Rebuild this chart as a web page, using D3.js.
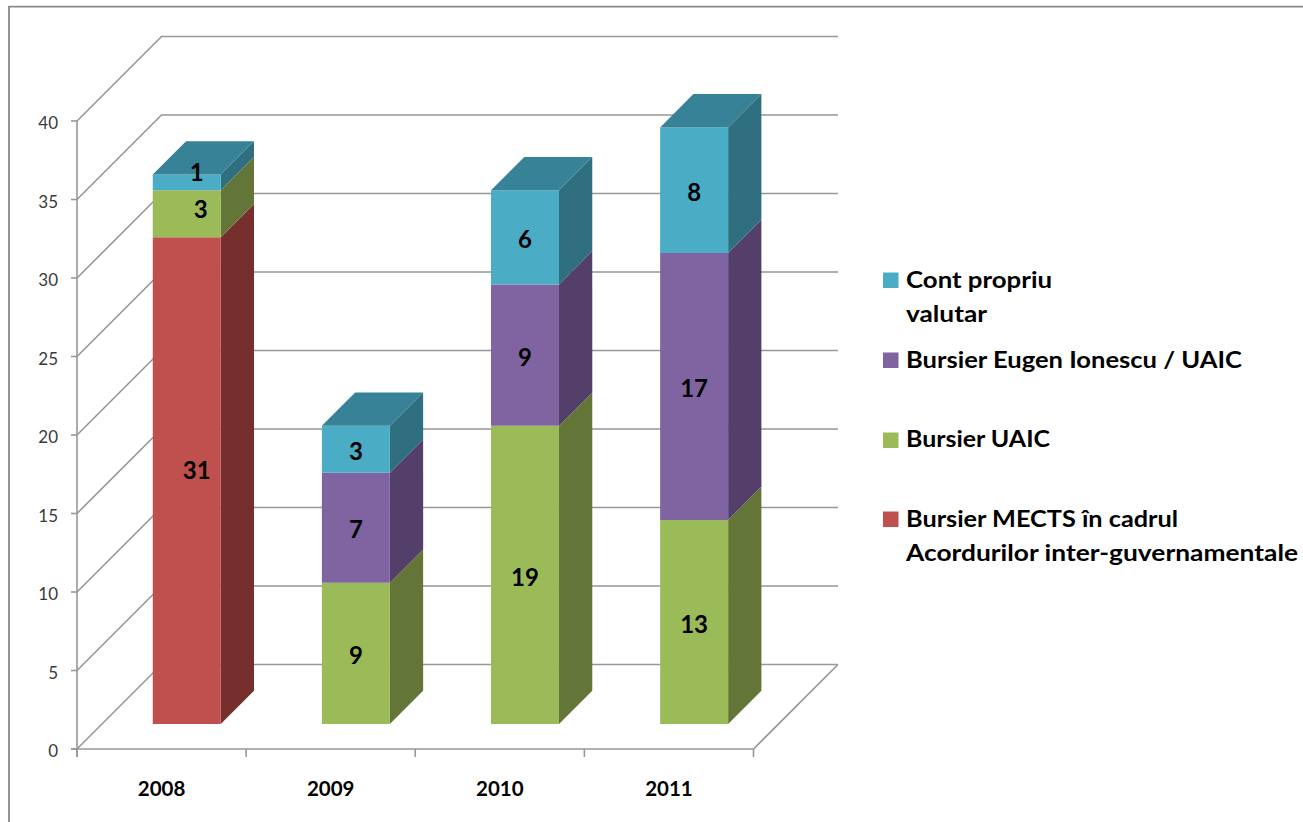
<!DOCTYPE html>
<html><head><meta charset="utf-8">
<script src="https://cdn.jsdelivr.net/npm/d3@7"></script>
<style>html,body{margin:0;padding:0;background:#fff}svg{display:block}</style>
</head><body><svg id="c" width="1303" height="822"></svg>
<script>
const years = ["2008","2009","2010","2011"];
const seriesNames = ["Bursier MECTS în cadrul\nAcordurilor inter-guvernamentale","Bursier UAIC","Bursier Eugen Ionescu / UAIC","Cont propriu\nvalutar"];
const mects = [31,0,0,0];
const uaic = [3,9,19,13];
const eugen = [0,7,9,17];
const cont = [1,3,6,8];
const yTicks = [0,5,10,15,20,25,30,35,40];
const faceColors = ["#C0504D","#9BBB59","#8064A2","#4BACC6"];
const sideColors = ["#772F2E","#637537","#533F6A","#306F80"];
const topColor = "#388297";
const legendRows = [
  {i:3,y:280,lines:[288,322],widths:[146,81]},
  {i:2,y:360,lines:[368],widths:[336]},
  {i:1,y:440,lines:[447],widths:[144]},
  {i:0,y:519,lines:[527,561],widths:[272,392]}];
// hand-moved labels of the first column in the original: [series, year index, dx, dy]
const labelNudges = [[0,0,10,-12],[1,0,14,-6],[3,0,10,-12]];

const values = [mects,uaic,eugen,cont];
const svg = d3.select("#c");
const x = d3.scaleBand().domain(years).range([77,753.5]).paddingInner(0).paddingOuter(0);
const y = d3.scaleLinear().domain([0,40]).range([749,121]);
const dz = d3.scaleLinear().domain([0,1]).range([0,84.5]);
const barPad = 0.3, barW = 0.402;
const zFront = 0.296, zBack = 0.69;
const P = (px,py,z)=>[px+dz(z),py-dz(z)];
const path = pts=>"M"+pts.map(p=>p.join(",")).join("L")+"Z";
const gridC="#979797";

// frame
svg.append("path").attr("d","M9,822V6.7H1303").attr("fill","none").attr("stroke","#8a8a8a").attr("stroke-width",1.8);

// walls
const g = svg.append("g").attr("fill","none").attr("stroke",gridC).attr("stroke-width",1.6);
yTicks.forEach(t=>{
  const a=P(77,y(t),0), b=P(77,y(t),1), c=P(753.5,y(t),1);
  g.append("path").attr("d",`M${a}L${b}L${c}`);
});
g.append("path").attr("d",`M${P(753.5,y(0),0)}L${P(753.5,y(0),1)}`);
g.append("path").attr("d",`M77,${y(40)}V757`);
g.append("path").attr("d",`M71,${y(0)}H753.5`);
yTicks.forEach(t=>g.append("path").attr("d",`M71,${y(t)}H77`));
years.concat("end").forEach((d,i)=>{const xx=77+i*x.bandwidth(); g.append("path").attr("d",`M${xx},749V757`);});

// tick labels
svg.append("g").selectAll("text").data(yTicks).join("text")
  .attr("x",58).attr("y",d=>y(d)+8).attr("text-anchor","end")
  .attr("font-family","Lato").attr("font-size",17).attr("fill","#3a3a3a").text(d=>d);
svg.append("g").selectAll("text").data(years).join("text")
  .attr("x",d=>x(d)+x.bandwidth()/2).attr("y",796).attr("text-anchor","middle")
  .attr("font-family","Lato").attr("font-weight",700).attr("font-size",20.5).attr("fill","#000").text(d=>d);

// bars
const barG = svg.append("g");
years.forEach((yr,k)=>{
  const x0=x(yr)+x.bandwidth()*barPad, x1=x0+x.bandwidth()*barW;
  let acc=0;
  const segs=[];
  values.forEach((v,s)=>{ if(v[k]>0){segs.push({s,a:acc,b:acc+v[k],v:v[k]}); acc+=v[k];} });
  segs.forEach(seg=>{
    const ya=y(seg.a), yb=y(seg.b);
    barG.append("path").attr("d",path([P(x1,ya,zFront),P(x1,ya,zBack),P(x1,yb,zBack),P(x1,yb,zFront)])).attr("fill",sideColors[seg.s]);
    barG.append("path").attr("d",path([P(x0,ya,zFront),P(x1,ya,zFront),P(x1,yb,zFront),P(x0,yb,zFront)])).attr("fill",faceColors[seg.s]);
  });
  const yt=y(acc);
  barG.append("path").attr("d",path([P(x0,yt,zFront),P(x1,yt,zFront),P(x1,yt,zBack),P(x0,yt,zBack)])).attr("fill",topColor);
  segs.forEach(seg=>{
    const c=P((x0+x1)/2,y((seg.a+seg.b)/2),zFront);
    const n=labelNudges.find(m=>m[0]===seg.s&&m[1]===k)||[0,0,0,0];
    barG.append("text").attr("x",c[0]+n[2]).attr("y",c[1]+10.7+n[3]).attr("text-anchor","middle")
      .attr("font-family","Lato").attr("font-weight",700).attr("font-size",24).attr("fill","#000").text(seg.v);
  });
});

// legend
const lg = svg.append("g");
legendRows.forEach(r=>{
  lg.append("rect").attr("x",883).attr("y",r.y-7.5).attr("width",15.5).attr("height",15.5).attr("fill",faceColors[r.i]);
  seriesNames[r.i].split("\n").forEach((t,j)=>{
    lg.append("text").attr("x",906).attr("y",r.lines[j])
      .attr("textLength",r.widths[j]).attr("lengthAdjust","spacingAndGlyphs")
      .attr("font-family","Lato").attr("font-weight",700)
      .attr("font-size",23.5).attr("fill","#000").text(t);
  });
});
</script></body></html>
